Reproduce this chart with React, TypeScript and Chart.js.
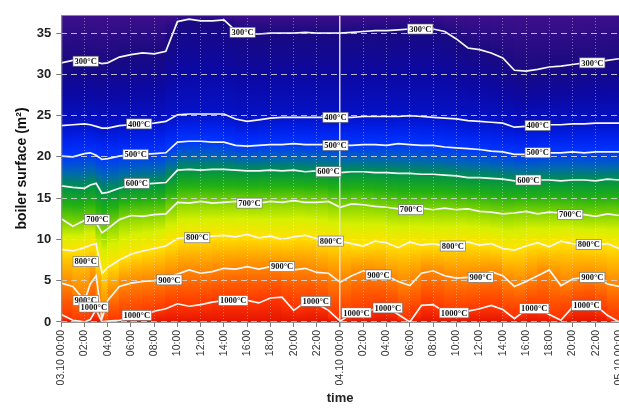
import React, { useEffect, useRef } from "react";
import { Chart, registerables } from "chart.js";

Chart.register(...registerables);

// time axis: hours since 03.10 00:00
const hours = [
  0, 1, 2, 2.5, 3, 3.5,
  4, 5, 6, 7, 8, 9, 10, 11, 12, 13,
  14, 15, 16, 17, 18, 19, 20, 21, 22, 23,
  24, 25, 26, 27, 28, 29, 30, 31, 32, 33,
  34, 35, 36, 37, 38, 39, 40, 41, 42, 43,
  44, 45, 46, 47, 48,
];

const tickLabels = [
  "03.10 00:00", "02:00", "04:00", "06:00", "08:00", "10:00", "12:00", "14:00", "16:00", "18:00", "20:00", "22:00",
  "04.10 00:00", "02:00", "04:00", "06:00", "08:00", "10:00", "12:00", "14:00", "16:00", "18:00", "20:00", "22:00",
  "05.10 00:00",
];

const isoTemps = [300, 400, 500, 600, 700, 800, 900, 1000];

// boiler surface (m²) of each isotherm
const iso300 = [
  31.4, 31.7, 31.9, 31.8, 31.5, 31.3,
  31.4, 32.1, 32.4, 32.6, 32.5, 32.8, 36.4, 36.7, 36.5, 36.5,
  36.6, 35.3, 34.9, 34.9, 35.0, 35.0, 35.0, 35.1, 35.0, 35.0,
  35.0, 35.1, 35.2, 35.3, 35.3, 35.4, 35.5, 35.6, 35.5, 35.2,
  34.3, 33.2, 33.0, 32.6, 32.0, 30.5, 30.4, 30.6, 30.9, 31.0,
  31.2, 31.4, 31.5, 31.7, 31.9,
];
const iso400 = [
  23.8, 23.9, 24.0, 23.9, 23.7, 23.5,
  23.5, 23.8, 23.9, 24.0, 24.1, 24.3, 25.1, 25.2, 25.2, 25.2,
  25.2, 24.6, 24.3, 24.5, 24.7, 24.8, 24.8, 24.8, 24.8, 24.8,
  24.8, 24.8, 24.9, 24.9, 24.9, 24.9, 25.0, 24.9, 24.8, 24.7,
  24.6, 24.4, 24.3, 24.2, 24.1, 23.6, 23.7, 23.8, 23.9, 23.9,
  24.0, 24.0, 24.1, 24.1, 24.1,
];
const iso500 = [
  20.1, 20.0, 20.4, 20.5, 20.2, 19.7,
  19.8, 20.1, 20.3, 20.3, 20.4, 20.5, 21.8, 21.9, 21.9, 21.8,
  21.8, 21.4, 21.3, 21.4, 21.5, 21.5, 21.6, 21.5, 21.5, 21.5,
  21.4, 21.4, 21.5, 21.5, 21.4, 21.6, 21.5, 21.4, 21.4, 21.2,
  21.1, 21.0, 20.9, 20.7, 20.6, 20.3, 20.3, 20.4, 20.5, 20.5,
  20.6, 20.5, 20.6, 20.6, 20.6,
];
const iso600 = [
  16.5, 16.3, 16.2, 16.6, 16.8, 15.6,
  15.7, 16.2, 16.6, 16.7, 16.8, 16.9, 18.4, 18.5, 18.4, 18.5,
  18.5, 18.4, 18.3, 18.3, 18.4, 18.3, 18.4, 18.2, 18.3, 18.3,
  18.1, 18.2, 18.2, 18.1, 18.1, 18.0, 18.0, 17.9, 17.9, 17.8,
  17.7, 17.5, 17.5, 17.4, 17.3, 17.1, 17.1, 17.2, 17.2, 17.1,
  17.2, 17.2, 17.1, 17.3, 17.2,
];
const iso700 = [
  12.5, 11.6, 12.3, 12.4, 12.0, 10.8,
  11.3, 12.4, 12.9, 12.8, 13.0, 13.1, 14.5, 14.4, 14.6, 14.4,
  14.5, 14.6, 14.5, 14.4, 14.6, 14.5, 14.7, 14.5, 14.5, 14.6,
  13.9, 14.3, 14.2, 14.0, 13.9, 13.7, 13.6, 13.8, 13.6, 13.8,
  13.6, 13.7, 13.4, 13.3, 13.1, 13.2, 13.4, 13.1, 13.3, 13.2,
  13.0, 13.0, 12.8, 13.1, 12.9,
];
const iso800 = [
  8.8, 8.6, 9.0, 9.3, 9.5, 5.9,
  6.6, 7.5, 8.2, 8.6, 8.9, 9.2, 10.1, 10.3, 10.2, 10.4,
  10.5, 10.3, 10.6, 10.2, 10.4, 10.0, 10.3, 10.5, 10.1, 9.9,
  9.8, 9.5, 9.2, 9.8, 9.6, 9.0, 9.7, 9.3, 9.5, 9.2,
  9.6, 9.7, 9.3, 9.5, 8.9, 8.7, 9.2, 9.6, 9.1, 9.8,
  9.5, 9.4, 9.3, 9.5, 8.9,
];
const iso900 = [
  4.7, 4.3, 2.6, 4.6, 5.6, 0.4,
  2.6, 4.3, 4.7, 4.9, 5.0, 5.3, 5.8, 6.3, 5.9, 6.1,
  6.5, 6.4, 6.7, 6.4, 6.7, 6.6, 6.3, 6.5, 6.0, 5.9,
  4.8, 5.6, 6.2, 5.8, 5.6, 4.9, 4.4, 5.9, 6.2, 5.6,
  5.3, 5.4, 5.5, 6.1, 5.6, 4.3, 4.9, 5.6, 6.3, 4.4,
  5.2, 5.4, 5.5, 4.6, 4.3,
];
const iso1000 = [
  0.9, 0.2, 0.0, 0.3, 1.5, 0.0,
  0.1, 0.2, 0.5, 0.8, 1.3, 1.6, 2.2, 1.9, 2.1, 2.4,
  2.6, 2.5, 2.6, 2.3, 2.9, 3.0, 1.4, 2.4, 2.2, 1.4,
  0.1, 1.0, 1.1, 1.6, 1.8, 0.9, 0.0, 2.0, 2.1, 1.2,
  1.1, 1.3, 1.6, 2.0, 1.5, 0.4, 1.5, 1.6, 0.9, 0.2,
  1.8, 2.0, 2.0, 0.8, 0.0,
];

// isotherm label anchors [hour, m²]
const labels300 = [[2.1, 31.6], [15.6, 35.1], [30.9, 35.5], [45.7, 31.4]];
const labels400 = [[6.7, 24.0], [23.6, 24.8], [41.0, 23.8]];
const labels500 = [[6.4, 20.3], [23.6, 21.4], [41.0, 20.5]];
const labels600 = [[6.5, 16.8], [23.0, 18.2], [40.2, 17.2]];
const labels700 = [[3.1, 12.4], [16.2, 14.4], [30.1, 13.6], [43.8, 13.0]];
const labels800 = [[2.1, 7.3], [11.7, 10.2], [23.2, 9.8], [33.7, 9.2], [45.4, 9.4]];
const labels900 = [[2.1, 2.6], [9.3, 5.1], [19.0, 6.7], [27.3, 5.7], [36.1, 5.4], [45.7, 5.4]];
const labels1000 = [[2.8, 1.8], [6.5, 0.8], [14.8, 2.6], [21.9, 2.5], [25.4, 1.1], [28.1, 1.7], [33.8, 1.1], [40.7, 1.6], [45.2, 2.0]];

const isoSeries = [iso300, iso400, iso500, iso600, iso700, iso800, iso900, iso1000];
const labelSets = [labels300, labels400, labels500, labels600, labels700, labels800, labels900, labels1000];

// colour map (temperature -> colour)
const COLOR_STOPS: [number, string][] = [
  [215, "#3e0f8c"],
  [260, "#2a0c86"],
  [300, "#1a0a80"],
  [350, "#0c08a2"],
  [400, "#0412c8"],
  [450, "#0022ec"],
  [500, "#0036ff"],
  [550, "#0064b8"],
  [600, "#009048"],
  [650, "#22b012"],
  [700, "#82d400"],
  [750, "#d6f000"],
  [800, "#ffe200"],
  [850, "#ffb200"],
  [900, "#ff8400"],
  [950, "#ff5a00"],
  [1000, "#ff3600"],
  [1080, "#e41400"],
];
const TOP_T = 215;
const BOTTOM_T = 1080;

function hexRgb(h: string) {
  return [parseInt(h.slice(1, 3), 16), parseInt(h.slice(3, 5), 16), parseInt(h.slice(5, 7), 16)];
}
function tempColor(t: number): string {
  if (t <= COLOR_STOPS[0][0]) return COLOR_STOPS[0][1];
  for (let i = 1; i < COLOR_STOPS.length; i++) {
    const [t1, c1] = COLOR_STOPS[i];
    const [t0, c0] = COLOR_STOPS[i - 1];
    if (t <= t1) {
      const f = (t - t0) / (t1 - t0);
      const a = hexRgb(c0), b = hexRgb(c1);
      const r = a.map((v, k) => Math.round(v + (b[k] - v) * f));
      return `rgb(${r[0]},${r[1]},${r[2]})`;
    }
  }
  return COLOR_STOPS[COLOR_STOPS.length - 1][1];
}

const heatmapPlugin = {
  id: "heatmap",
  beforeDatasetsDraw(chart: any) {
    const { ctx, chartArea: ca, scales } = chart;
    const xs = scales.x, ys = scales.y;
    ctx.save();
    ctx.beginPath();
    ctx.rect(ca.left, ca.top, ca.right - ca.left, ca.bottom - ca.top);
    ctx.clip();
    const n = hours.length;
    const px = hours.map((h) => xs.getPixelForValue(h));
    const nb = isoSeries.length + 1;
    for (let b = 0; b < nb; b++) {
      const tU = b === 0 ? TOP_T : isoTemps[b - 1];
      const tL = b === nb - 1 ? BOTTOM_T : isoTemps[b];
      const upper = (i: number) => (b === 0 ? ca.top : ys.getPixelForValue(isoSeries[b - 1][i]));
      const lower = (i: number) => (b === nb - 1 ? ys.getPixelForValue(0) : ys.getPixelForValue(isoSeries[b][i]));
      for (let i = 0; i < n - 1; i++) {
        const xa = px[i] - 0.6, xb = px[i + 1] + 0.6;
        const ua = upper(i), ub = upper(i + 1), la = lower(i), lb = lower(i + 1);
        const um = (ua + ub) / 2, lm = (la + lb) / 2;
        let fill: any;
        if (lm - um < 1) {
          fill = tempColor((tU + tL) / 2);
        } else {
          const g = ctx.createLinearGradient(0, um, 0, lm);
          g.addColorStop(0, tempColor(tU));
          for (const [s, c] of COLOR_STOPS) {
            if (s > tU && s < tL) g.addColorStop((s - tU) / (tL - tU), c);
          }
          g.addColorStop(1, tempColor(tL));
          fill = g;
        }
        ctx.fillStyle = fill;
        ctx.beginPath();
        ctx.moveTo(xa, ua);
        ctx.lineTo(xb, ub);
        ctx.lineTo(xb, lb + 0.5);
        ctx.lineTo(xa, la + 0.5);
        ctx.closePath();
        ctx.fill();
      }
    }
    ctx.restore();
  },
  afterDraw(chart: any) {
    const { ctx, chartArea: ca, scales } = chart;
    const xs = scales.x, ys = scales.y;
    ctx.save();
    // frame
    ctx.strokeStyle = "#8a8a8a";
    ctx.lineWidth = 1;
    ctx.beginPath();
    ctx.moveTo(ca.left + 0.5, ca.bottom);
    ctx.lineTo(ca.left + 0.5, ca.top + 0.5);
    ctx.lineTo(ca.right, ca.top + 0.5);
    ctx.moveTo(ca.left, ca.bottom + 0.5);
    ctx.lineTo(ca.right, ca.bottom + 0.5);
    ctx.stroke();
    // isotherm labels
    ctx.beginPath();
    ctx.rect(ca.left, ca.top, ca.right - ca.left, ca.bottom - ca.top);
    ctx.clip();
    ctx.font = "bold 8.5px 'Liberation Serif', 'Times New Roman', serif";
    ctx.textAlign = "center";
    ctx.textBaseline = "middle";
    isoTemps.forEach((t, k) => {
      const txt = `${t}°C`;
      const w = ctx.measureText(txt).width + 3;
      const h = 10;
      labelSets[k].forEach(([hx, v]) => {
        const x = xs.getPixelForValue(hx);
        const y = ys.getPixelForValue(v);
        ctx.fillStyle = "#ffffff";
        ctx.fillRect(x - w / 2, y - h / 2, w, h);
        ctx.strokeStyle = "#6a6a6a";
        ctx.lineWidth = 0.6;
        ctx.strokeRect(x - w / 2, y - h / 2, w, h);
        ctx.fillStyle = "#111111";
        ctx.fillText(txt, x, y + 0.5);
      });
    });
    ctx.restore();
  },
};

export default function App() {
  const ref = useRef<HTMLCanvasElement>(null);
  useEffect(() => {
    document.body.style.margin = "0";
    const datasets = isoTemps.map((t, k) => ({
      label: `${t}°C`,
      data: hours.map((h, i) => ({ x: h, y: isoSeries[k][i] })),
      borderColor: "#f6f6f6",
      borderWidth: 1.7,
      pointRadius: 0,
      tension: 0,
      fill: false,
    }));
    const chart = new Chart(ref.current as HTMLCanvasElement, {
      type: "line",
      data: { datasets },
      plugins: [heatmapPlugin],
      options: {
        responsive: false,
        animation: false,
        devicePixelRatio: 1,
        layout: { padding: { left: 7, top: 15, right: 0, bottom: 0 } },
        plugins: { legend: { display: false }, tooltip: { enabled: false } },
        scales: {
          x: {
            type: "linear",
            min: 0,
            max: 48,
            afterFit: (s: any) => {
              s.paddingRight = 0;
            },
            ticks: {
              stepSize: 2,
              autoSkip: false,
              includeBounds: false,
              maxRotation: 90,
              minRotation: 90,
              padding: 3,
              color: "#333",
              font: { family: "Arial, 'Liberation Sans'", size: 10.5 },
              callback: (v: any) => tickLabels[Math.round(Number(v) / 2)] ?? "",
            },
            grid: {
              z: 1,
              color: (c: any) => (c.tick && c.tick.value === 24 ? "rgba(225,225,225,0.95)" : "rgba(255,255,255,0.38)"),
              lineWidth: (c: any) => (c.tick && c.tick.value === 24 ? 1.5 : 1),
              tickColor: "#7a7a7a",
              tickLength: 5,
            },
            border: { display: false, dash: (c: any) => (c.tick && c.tick.value === 24 ? [] : [1, 2]) },
            title: {
              display: true,
              text: "time",
              color: "#222",
              font: { family: "Arial, 'Liberation Sans'", size: 13, weight: "bold" },
              padding: { top: 2, bottom: 2 },
            },
          },
          y: {
            type: "linear",
            min: 0,
            max: 37.2,
            ticks: {
              stepSize: 5,
              includeBounds: false,
              padding: 5,
              color: "#222",
              font: { family: "Arial, 'Liberation Sans'", size: 13, weight: "bold" },
            },
            grid: {
              z: 1,
              color: "rgba(215,215,215,0.85)",
              lineWidth: 1,
              tickColor: "#7a7a7a",
              tickLength: 5,
            },
            border: { display: false, dash: [6, 4] },
            title: {
              display: true,
              text: "boiler surface (m²)",
              color: "#111",
              font: { family: "Arial, 'Liberation Sans'", size: 14, weight: "bold" },
              padding: { top: 7, bottom: 1 },
            },
          },
        },
      } as any,
    });
    return () => chart.destroy();
  }, []);
  return (
    <div style={{ width: 619, height: 408, overflow: "hidden" }}>
      <canvas ref={ref} width={619} height={408} style={{ display: "block" }} />
    </div>
  );
}
